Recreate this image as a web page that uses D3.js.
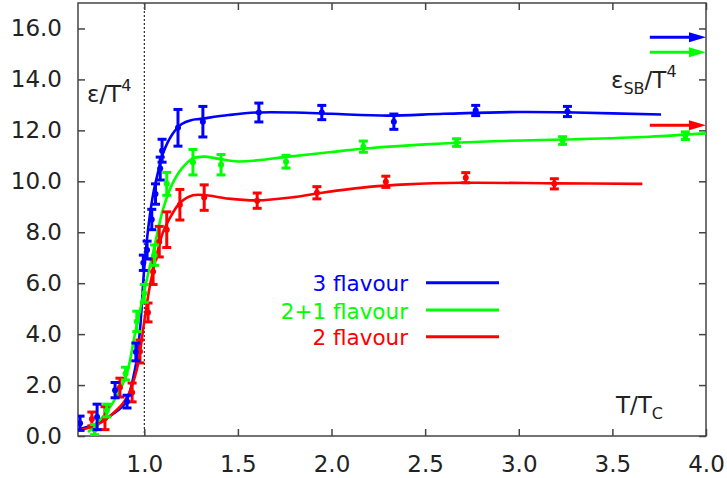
<!DOCTYPE html>
<html>
<head>
<meta charset="utf-8">
<script src="https://cdn.jsdelivr.net/npm/d3@7"></script>
<style>
  html, body { margin: 0; padding: 0; background: #fff; }
  svg { display: block; font-family: "DejaVu Sans", sans-serif; }
</style>
</head>
<body>
<svg id="chart" width="727" height="478"></svg>
<script>
// Energy density of QCD, eps/T^4 versus T/Tc, for three flavour contents.

// Axis ticks
const xTicks = [1.0, 1.5, 2.0, 2.5, 3.0, 3.5, 4.0];
const yTicks = [0, 2, 4, 6, 8, 10, 12, 14, 16];

// Series names (legend order)
const seriesNames = ["3 flavour", "2+1 flavour", "2 flavour"];

// 3 flavour: lattice points (T/Tc, eps/T^4, error) and smooth curve
const threeT   = [0.657, 0.748, 0.844, 0.908, 0.955, 0.995, 1.015, 1.04, 1.06, 1.085, 1.095, 1.18, 1.313, 1.612, 1.948, 2.333, 2.77, 3.26];
const threeEps = [0.5, 0.75, 1.8, 1.35, 3.3, 6.8, 7.3, 8.5, 9.5, 10.5, 11.2, 12.1, 12.34, 12.7, 12.7, 12.34, 12.78, 12.74];
const threeErr = [0.28, 0.5, 0.3, 0.25, 0.35, 0.3, 0.35, 0.4, 0.4, 0.45, 0.45, 0.72, 0.6, 0.37, 0.28, 0.3, 0.2, 0.2];
const threeFitT   = [0.646, 0.75, 0.85, 0.9, 0.95, 0.975, 1.0, 1.025, 1.05, 1.075, 1.1, 1.15, 1.2, 1.25, 1.3, 1.45, 1.6, 1.8, 2.0, 2.3, 2.6, 3.0, 3.3, 3.76];
const threeFitEps = [0.25, 0.5, 0.95, 1.3, 2.6, 4.0, 6.6, 8.4, 9.6, 10.4, 11.1, 11.85, 12.25, 12.4, 12.45, 12.6, 12.7, 12.7, 12.65, 12.58, 12.65, 12.72, 12.7, 12.62];

// 2+1 flavour
const twoOneT   = [0.735, 0.80, 0.90, 0.96, 1.0, 1.055, 1.12, 1.26, 1.41, 1.757, 2.17, 2.668, 3.234, 3.89];
const twoOneEps = [0.25, 1.0, 2.45, 4.5, 5.6, 7.1, 9.9, 10.75, 10.65, 10.77, 11.36, 11.52, 11.6, 11.79];
const twoOneErr = [0.2, 0.25, 0.25, 0.4, 0.35, 0.4, 0.45, 0.5, 0.4, 0.25, 0.22, 0.15, 0.15, 0.15];
const twoOneFitT   = [0.70, 0.8, 0.9, 0.95, 1.0, 1.05, 1.1, 1.15, 1.2, 1.26, 1.32, 1.4, 1.5, 1.6, 1.75, 2.0, 2.2, 2.5, 2.9, 3.3, 3.7, 4.0];
const twoOneFitEps = [0.15, 0.95, 2.3, 4.0, 5.7, 7.3, 8.9, 9.9, 10.5, 10.9, 10.97, 10.88, 10.78, 10.82, 10.95, 11.15, 11.3, 11.45, 11.58, 11.65, 11.75, 11.88];

// 2 flavour
const twoT   = [0.72, 0.79, 0.87, 0.935, 0.977, 1.02, 1.047, 1.08, 1.12, 1.19, 1.32, 1.603, 1.922, 2.29, 2.717, 3.19];
const twoEps = [0.67, 0.7, 1.9, 1.71, 3.32, 4.85, 6.45, 7.63, 8.1, 9.08, 9.36, 9.24, 9.55, 9.98, 10.14, 9.9];
const twoErr = [0.27, 0.45, 0.37, 0.37, 0.45, 0.37, 0.5, 0.6, 0.7, 0.6, 0.5, 0.3, 0.24, 0.22, 0.2, 0.2];
const twoFitT   = [0.657, 0.75, 0.85, 0.91, 0.96, 1.0, 1.03, 1.07, 1.1, 1.14, 1.19, 1.26, 1.33, 1.45, 1.6, 1.8, 1.95, 2.2, 2.4, 2.7, 3.2, 3.66];
const twoFitEps = [0.24, 0.45, 1.0, 1.55, 2.6, 4.5, 5.9, 7.2, 8.0, 8.6, 9.15, 9.45, 9.45, 9.32, 9.25, 9.38, 9.55, 9.78, 9.88, 9.94, 9.92, 9.9];

// Stefan-Boltzmann limits for the three cases
const sbLimits = [15.66, 15.07, 12.2];
const sbArrowStart = 3.70;

const colors = ["#0000ff", "#00ff00", "#ff0000"];

const series = [
  { T: threeT, eps: threeEps, err: threeErr, fitT: threeFitT, fitEps: threeFitEps },
  { T: twoOneT, eps: twoOneEps, err: twoOneErr, fitT: twoOneFitT, fitEps: twoOneFitEps },
  { T: twoT, eps: twoEps, err: twoErr, fitT: twoFitT, fitEps: twoFitEps }
];

const svg = d3.select("#chart");
const plotLeft = 78, plotRight = 706, plotTop = 3, plotBottom = 436;

const x = d3.scaleLinear().domain([0.646, 4.0]).range([plotLeft, plotRight]);
const y = d3.scaleLinear().domain([0, 17]).range([plotBottom, plotTop]);

svg.append("defs").append("clipPath").attr("id", "plotClip")
  .append("rect").attr("x", plotLeft).attr("y", plotTop)
  .attr("width", plotRight - plotLeft).attr("height", plotBottom - plotTop);

// Dotted line at the transition temperature
svg.append("line")
  .attr("x1", x(1.0)).attr("x2", x(1.0)).attr("y1", plotTop).attr("y2", plotBottom)
  .attr("stroke", "#000").attr("stroke-width", 1).attr("stroke-dasharray", "2,2");

// Axes with inward ticks
const fmt = d3.format(".1f");
const axisStyle = g => {
  g.select(".domain").remove();
  g.selectAll(".tick line").attr("stroke", "#444").attr("stroke-width", 1.5);
  g.selectAll(".tick text").attr("fill", "#222").style("font-size", "23px").style("font-family", "DejaVu Sans, sans-serif");
};

svg.append("g").attr("transform", `translate(${plotLeft},0)`)
  .call(d3.axisLeft(y).tickValues(yTicks).tickFormat(fmt).tickSize(-7).tickPadding(16))
  .call(axisStyle);
svg.append("g").attr("transform", `translate(${plotRight},0)`)
  .call(d3.axisRight(y).tickValues(yTicks).tickFormat("").tickSize(-7))
  .call(axisStyle);
svg.append("g").attr("transform", `translate(0,${plotBottom})`)
  .call(d3.axisBottom(x).tickValues(xTicks).tickFormat(fmt).tickSize(-7).tickPadding(20))
  .call(axisStyle);
svg.append("g").attr("transform", `translate(0,${plotTop})`)
  .call(d3.axisTop(x).tickValues(xTicks).tickFormat("").tickSize(-7))
  .call(axisStyle);

// Frame
svg.append("rect")
  .attr("x", plotLeft).attr("y", plotTop)
  .attr("width", plotRight - plotLeft).attr("height", plotBottom - plotTop)
  .attr("fill", "none").attr("stroke", "#444").attr("stroke-width", 1.5);

const plot = svg.append("g").attr("clip-path", "url(#plotClip)");

const line = d3.line()
  .x(d => x(d[0])).y(d => y(d[1]))
  .curve(d3.curveCatmullRom.alpha(0.5));

// Fitted curves
series.forEach((s, i) => {
  plot.append("path")
    .datum(s.fitT.map((t, k) => [t, s.fitEps[k]]))
    .attr("d", line)
    .attr("fill", "none")
    .attr("stroke", colors[i])
    .attr("stroke-width", 2.6)
    .attr("stroke-linejoin", "round");
});

// Data points with error bars
series.slice().reverse().forEach((s, ri) => {
  const i = series.length - 1 - ri;
  const g = plot.append("g").attr("stroke", colors[i]).attr("fill", colors[i]);
  const pts = s.T.map((t, k) => ({ t, v: s.eps[k], e: s.err[k] }));
  const cap = 4.5;
  g.selectAll("line.bar").data(pts).join("line").attr("class", "bar")
    .attr("x1", d => x(d.t)).attr("x2", d => x(d.t))
    .attr("y1", d => y(d.v - d.e)).attr("y2", d => y(d.v + d.e))
    .attr("stroke-width", 3);
  g.selectAll("line.capLo").data(pts).join("line").attr("class", "capLo")
    .attr("x1", d => x(d.t) - cap).attr("x2", d => x(d.t) + cap)
    .attr("y1", d => y(d.v - d.e)).attr("y2", d => y(d.v - d.e))
    .attr("stroke-width", 3);
  g.selectAll("line.capHi").data(pts).join("line").attr("class", "capHi")
    .attr("x1", d => x(d.t) - cap).attr("x2", d => x(d.t) + cap)
    .attr("y1", d => y(d.v + d.e)).attr("y2", d => y(d.v + d.e))
    .attr("stroke-width", 3);
  g.selectAll("circle").data(pts).join("circle")
    .attr("cx", d => x(d.t)).attr("cy", d => y(d.v)).attr("r", 3)
    .attr("stroke", "none");
});

// Stefan-Boltzmann arrows
sbLimits.forEach((v, i) => {
  const x0 = x(sbArrowStart), x1 = x(4.0), yy = y(v);
  svg.append("line")
    .attr("x1", x0).attr("x2", x1 - 12).attr("y1", yy).attr("y2", yy)
    .attr("stroke", colors[i]).attr("stroke-width", 3);
  svg.append("path")
    .attr("d", `M${x1 - 17},${yy - 5} L${x1},${yy} L${x1 - 17},${yy + 5} Z`)
    .attr("fill", colors[i]);
});

// Legend
const legendY = [282.7, 310, 336.7];
seriesNames.forEach((name, i) => {
  svg.append("text")
    .attr("x", 408).attr("y", legendY[i] + 8.5)
    .attr("text-anchor", "end")
    .attr("fill", colors[i])
    .style("font-size", "21.5px")
    .text(name);
  svg.append("line")
    .attr("x1", 426).attr("x2", 499).attr("y1", legendY[i]).attr("y2", legendY[i])
    .attr("stroke", colors[i]).attr("stroke-width", 3);
});

// Axis titles
const t1 = svg.append("text").attr("x", 87).attr("y", 102).attr("fill", "#222").style("font-size", "23px");
t1.append("tspan").text("ε/T");
t1.append("tspan").attr("dy", -11).style("font-size", "16px").text("4");

const t2 = svg.append("text").attr("x", 611).attr("y", 88).attr("fill", "#222").style("font-size", "23px");
t2.append("tspan").text("ε");
t2.append("tspan").attr("dy", 6).style("font-size", "16px").text("SB");
t2.append("tspan").attr("dy", -6).text("/T");
t2.append("tspan").attr("dy", -11).style("font-size", "16px").text("4");

const t3 = svg.append("text").attr("x", 616).attr("y", 413).attr("fill", "#222").style("font-size", "23px");
t3.append("tspan").text("T/T");
t3.append("tspan").attr("dy", 6).style("font-size", "16px").text("C");
</script>
</body>
</html>
